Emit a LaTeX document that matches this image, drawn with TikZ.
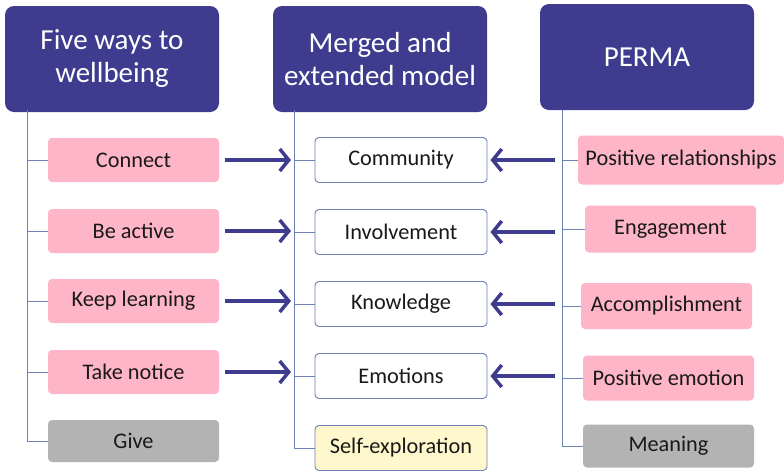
\documentclass[tikz,border=0pt]{standalone}
\usepackage{fontspec}
\setmainfont{Carlito}
\usetikzlibrary{arrows.meta}
\definecolor{indigo}{HTML}{3F3C8F}
\definecolor{pinkfill}{HTML}{FFB5C8}
\definecolor{grayfill}{HTML}{B3B3B3}
\definecolor{creamfill}{HTML}{FFF8CC}
\definecolor{linkblue}{HTML}{6F82B5}
\begin{document}
\begin{tikzpicture}[x=1pt,y=-1pt,
  header/.style={fill=indigo, rounded corners=9pt, minimum width=214pt, minimum height=106pt,
    text=white, font=\fontsize{29}{33}\selectfont, align=center, inner sep=0pt},
  item/.style={rounded corners=4pt, minimum height=44pt, inner sep=0pt,
    font=\fontsize{22.3}{26}\selectfont, text=black!90},
  pinkbox/.style={item, fill=pinkfill},
  graybox/.style={item, fill=grayfill},
  whitebox/.style={item, fill=white, draw=linkblue, line width=0.9pt},
  creambox/.style={item, fill=creamfill, draw=linkblue, line width=0.9pt},
  tree/.style={draw=linkblue, line width=1pt},
  bigarrow/.style={draw=indigo, line width=4pt,
    -{Straight Barb[length=9pt,width=22pt,line width=3.5pt]}}]
\useasboundingbox (0,0) rectangle (784,472);
\fill[white] (0,0) rectangle (784,472);

% column headers
\node[header] (h1) at (112,59) {Five ways to\\wellbeing};
\node[header] (h2) at (380,59) {Merged and\\extended model};
\node[header] (h3) at (647,57) {PERMA};

% five ways to wellbeing
\node[pinkbox, minimum width=171pt] (connect) at (133.5,160) {Connect};
\node[pinkbox, minimum width=171pt] (active) at (133.5,231) {Be active};
\node[pinkbox, minimum width=171pt] (learn) at (133.5,301) {Keep learning};
\node[pinkbox, minimum width=171pt] (notice) at (133.5,372) {Take notice};
\node[graybox, minimum width=171pt, minimum height=42pt] (give) at (133.5,441) {Give};

% merged and extended model
\node[whitebox, minimum width=172pt, minimum height=45pt] (community) at (401,160) {Community};
\node[whitebox, minimum width=172pt, minimum height=45pt] (involve) at (401,232) {Involvement};
\node[whitebox, minimum width=172pt, minimum height=45pt] (knowledge) at (401,304) {Knowledge};
\node[whitebox, minimum width=172pt, minimum height=45pt] (emotions) at (401,376) {Emotions};
\node[creambox, minimum width=172pt, minimum height=45pt] (selfexp) at (401,448) {Self-exploration};

% PERMA
\node[pinkbox, minimum width=206pt, minimum height=49pt] (prel) at (681,160) {Positive relationships};
\node[pinkbox, minimum width=171pt, minimum height=47pt] (engage) at (670.5,229) {Engagement};
\node[pinkbox, minimum width=171pt, minimum height=46pt] (accomp) at (666.5,306) {Accomplishment};
\node[pinkbox, minimum width=171pt, minimum height=45pt] (posemo) at (668.5,378) {Positive emotion};
\node[graybox, minimum width=171pt, minimum height=43pt] (meaning) at (668.5,446) {Meaning};

% tree trunks
\coordinate (t1) at (27,110);
\coordinate (t2) at (294,110);
\coordinate (t3) at (562,110);
\draw[tree] (t1) -- (t1 |- give.west);
\draw[tree] (t2) -- (t2 |- selfexp.west);
\draw[tree] (t3) -- (t3 |- meaning.west);

% tree branches
\foreach \n in {connect,active,learn,notice,give}
  \draw[tree] (t1 |- \n.west) -- (\n.west);
\foreach \n in {community,involve,knowledge,emotions,selfexp}
  \draw[tree] (t2 |- \n.west) -- (\n.west);
\foreach \n in {prel,engage,accomp,posemo,meaning}
  \draw[tree] (t3 |- \n.west) -- (\n.west);

% mappings into the merged model
\foreach \n in {connect,active,learn,notice}
  \draw[bigarrow, shorten <=6pt, shorten >=3pt] (\n.east) -- (t2 |- \n.east);
\foreach \n in {community,involve,knowledge,emotions}
  \draw[bigarrow, shorten <=7pt, shorten >=3pt] (t3 |- \n.east) -- (\n.east);
\end{tikzpicture}
\end{document}
